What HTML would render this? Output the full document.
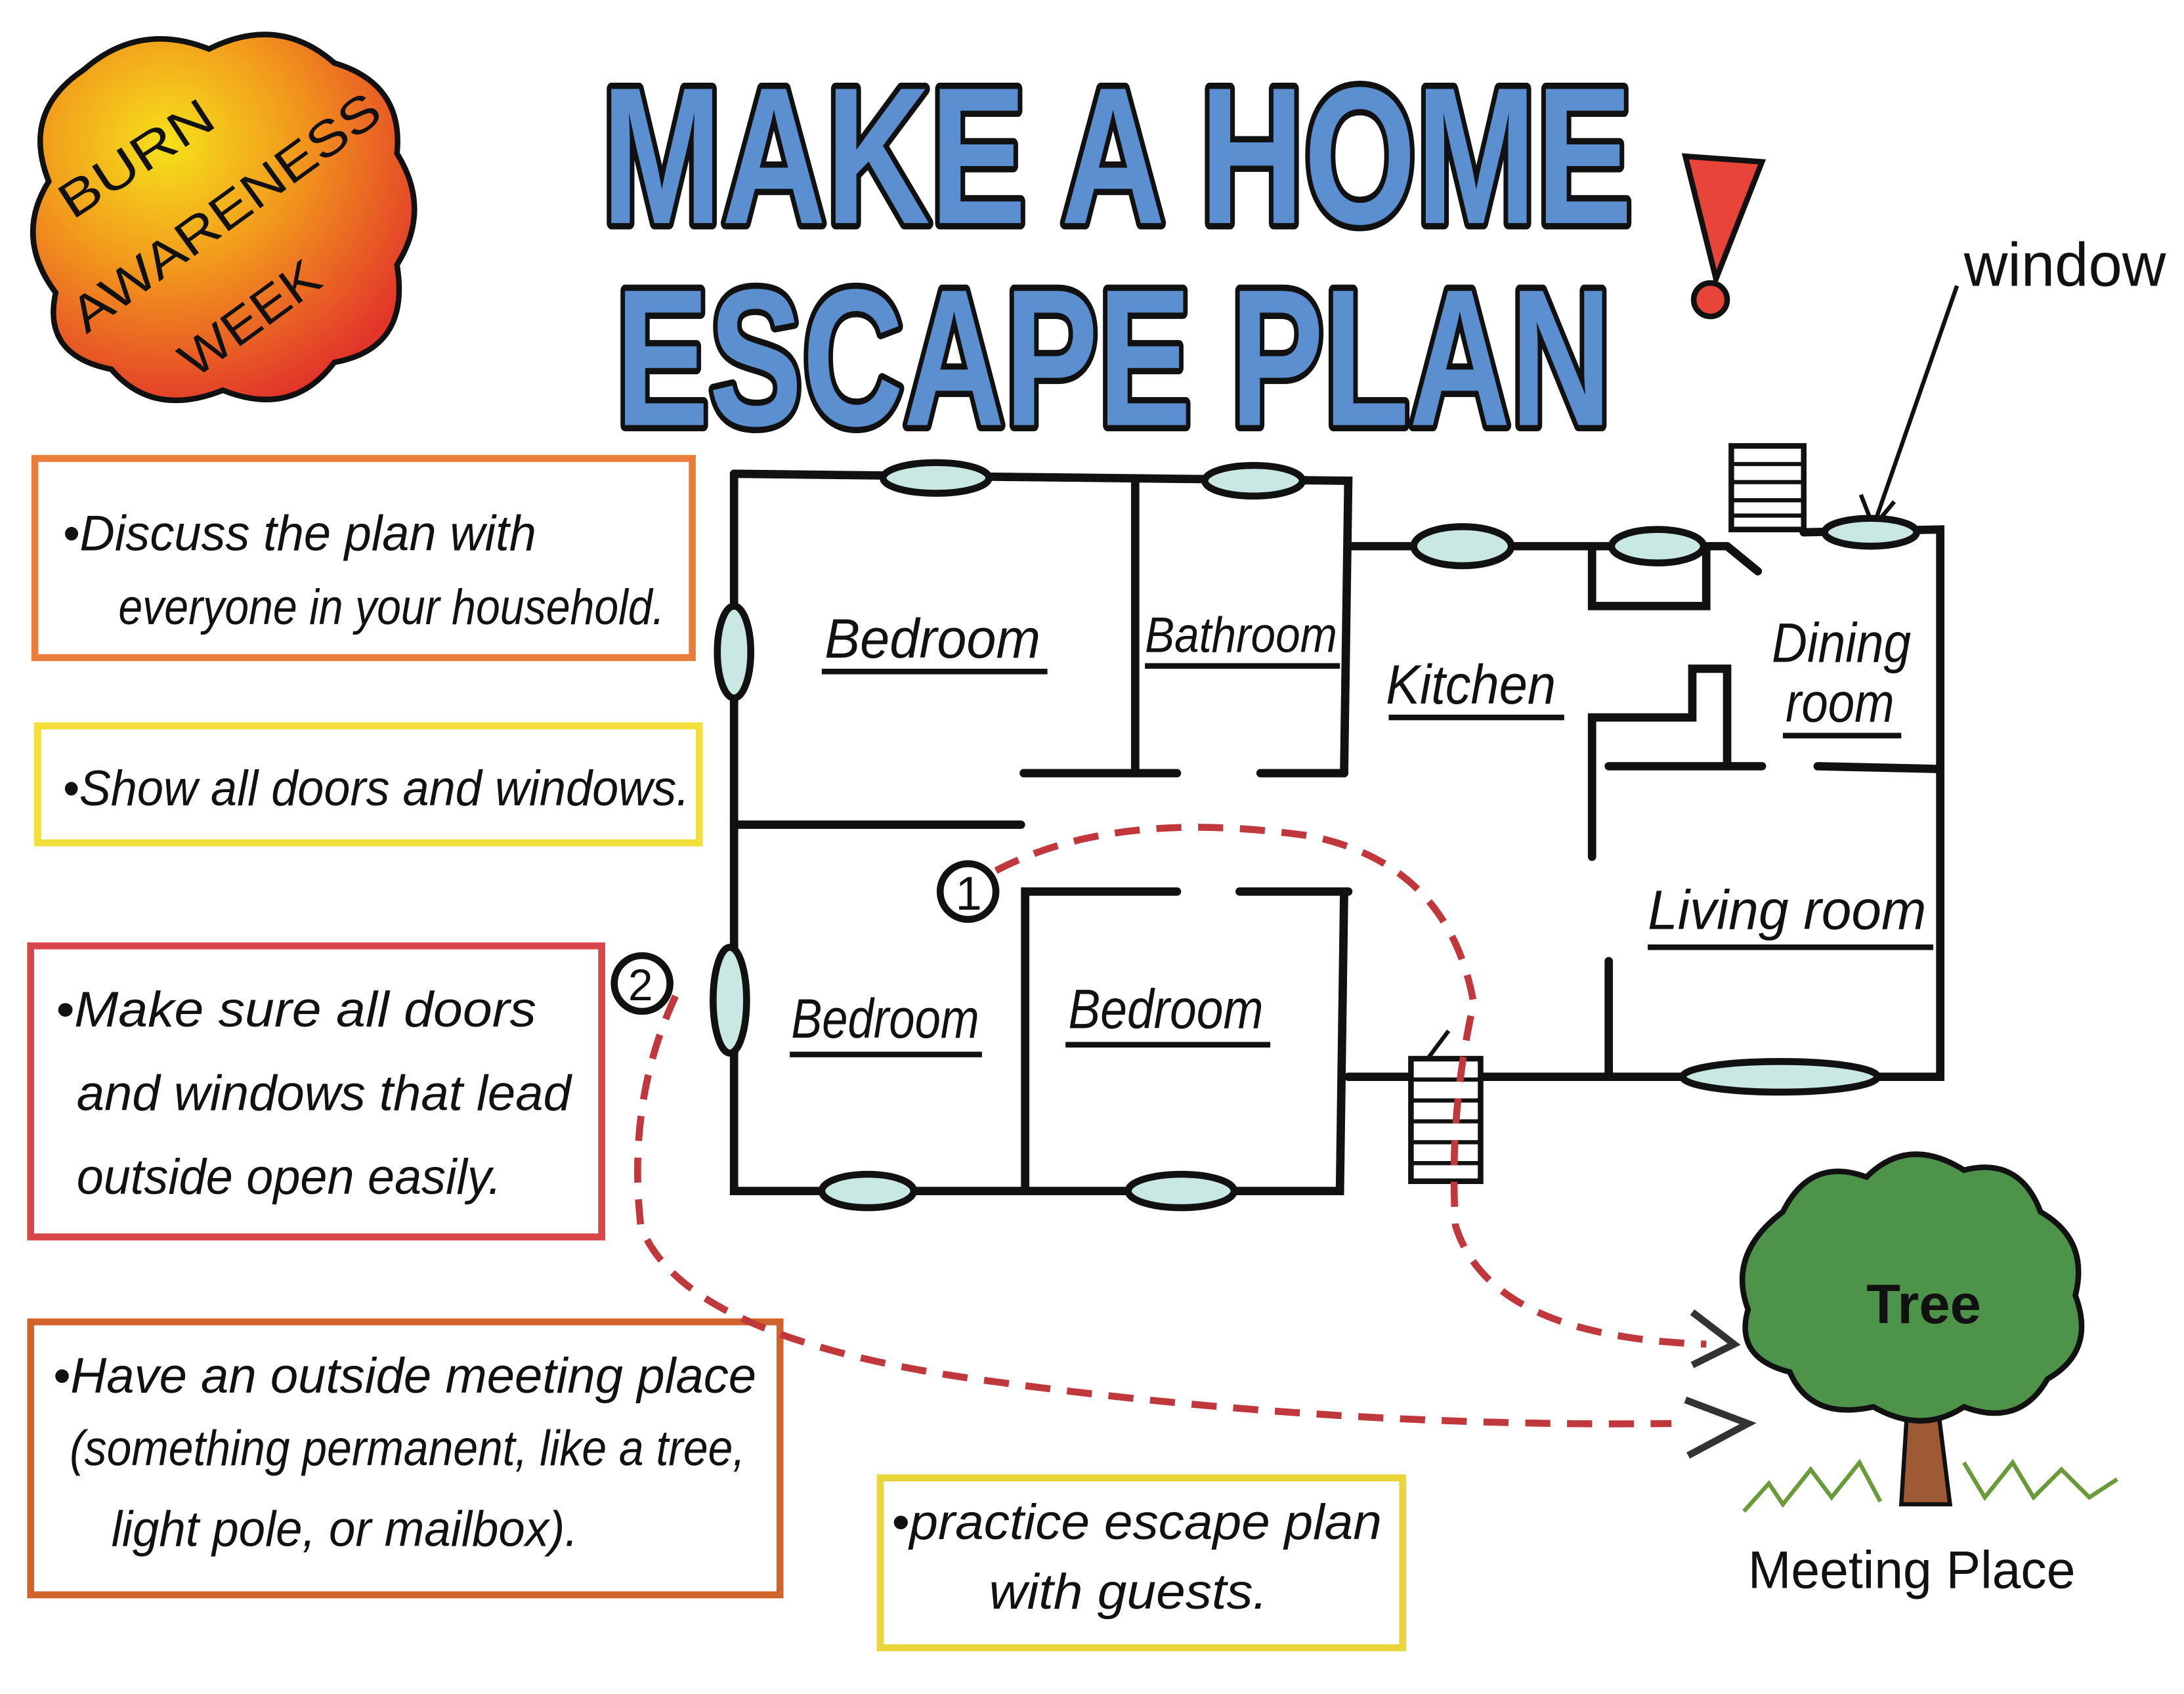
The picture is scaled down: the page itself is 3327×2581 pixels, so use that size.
<!DOCTYPE html>
<html><head><meta charset="utf-8"><style>
html,body{margin:0;padding:0;background:#fff;}
svg{display:block;}
text{font-family:"Liberation Sans",sans-serif;}
</style></head><body>
<svg width="3327" height="2581" viewBox="0 0 1568 1216" xmlns="http://www.w3.org/2000/svg">
<defs>
<radialGradient id="burn" cx="0.35" cy="0.3" r="0.75">
<stop offset="0" stop-color="#f5e11a"/><stop offset="0.45" stop-color="#f29a1c"/><stop offset="1" stop-color="#e2352a"/>
</radialGradient>
</defs>
<rect width="1568" height="1216" fill="#fff"/>
<!-- burn blob -->
<path d="M60,50 Q100,15 150,35 Q200,10 240,45 Q290,60 285,110 Q310,150 285,190 Q295,250 240,260 Q210,300 160,280 Q110,300 80,265 Q30,255 40,210 Q10,170 35,130 Q15,80 60,50Z" fill="url(#burn)" stroke="#111" stroke-width="4"/>
<g font-size="36" fill="#111">
<text x="0" y="0" transform="translate(52,158) rotate(-33)" textLength="125" lengthAdjust="spacingAndGlyphs">BURN</text>
<text x="0" y="0" transform="translate(62,240) rotate(-36)" textLength="265" lengthAdjust="spacingAndGlyphs">AWARENESS</text>
<text x="0" y="0" transform="translate(140,272) rotate(-36)" textLength="115" lengthAdjust="spacingAndGlyphs">WEEK</text>
</g>
<!-- title -->
<g font-weight="bold" fill="#5b8fcf" stroke="#111" stroke-width="9" stroke-linejoin="round" paint-order="stroke" font-family="Liberation Sans">
<text x="432" y="160" font-size="140" textLength="740" lengthAdjust="spacingAndGlyphs">MAKE A HOME</text>
<text x="442" y="305" font-size="140" textLength="715" lengthAdjust="spacingAndGlyphs">ESCAPE PLAN</text>
</g>
<path d="M1210,112 L1265,116 L1232,200 Z" fill="#e8443a" stroke="#111" stroke-width="4"/>
<circle cx="1228" cy="215" r="12" fill="#e8443a" stroke="#111" stroke-width="4"/>
<!-- window label -->
<text x="1410" y="205" font-size="44" fill="#111" textLength="145" lengthAdjust="spacingAndGlyphs">window</text>
<line x1="1405" y1="205" x2="1346" y2="375" stroke="#111" stroke-width="3"/>
<path d="M1336,355 L1345,378 L1360,360" fill="none" stroke="#111" stroke-width="3"/>
<!-- tip boxes -->
<g fill="none" stroke-width="5">
<rect x="25" y="329" width="472" height="143" stroke="#ea7d3a"/>
<rect x="27" y="521" width="475" height="84" stroke="#f2df3a"/>
<rect x="22" y="679" width="410" height="209" stroke="#d8464a"/>
<rect x="22" y="949" width="538" height="196" stroke="#d0642c"/>
<rect x="632" y="1061" width="375" height="122" stroke="#e9d43a"/>
</g>
<g font-size="36" fill="#111" font-style="italic" lengthAdjust="spacingAndGlyphs">
<text x="45" y="395" textLength="340" lengthAdjust="spacingAndGlyphs">•Discuss the plan with</text>
<text x="85" y="448" textLength="392" lengthAdjust="spacingAndGlyphs">everyone in your household.</text>
<text x="45" y="578" textLength="450" lengthAdjust="spacingAndGlyphs">•Show all doors and windows.</text>
<text x="40" y="737" textLength="345" lengthAdjust="spacingAndGlyphs">•Make sure all doors</text>
<text x="55" y="797" textLength="355" lengthAdjust="spacingAndGlyphs">and windows that lead</text>
<text x="55" y="857" textLength="305" lengthAdjust="spacingAndGlyphs">outside open easily.</text>
<text x="38" y="1000" textLength="505" lengthAdjust="spacingAndGlyphs">•Have an outside meeting place</text>
<text x="50" y="1052" textLength="485" lengthAdjust="spacingAndGlyphs">(something permanent, like a tree,</text>
<text x="80" y="1110" textLength="335" lengthAdjust="spacingAndGlyphs">light pole, or mailbox).</text>
<text x="640" y="1105" textLength="352" lengthAdjust="spacingAndGlyphs">•practice escape plan</text>
<text x="710" y="1155" textLength="200" lengthAdjust="spacingAndGlyphs">with guests.</text>
</g>
<!-- floor plan walls -->
<g stroke="#111" stroke-width="6" fill="none" stroke-linecap="round">
<path d="M527,340 L968,345 L965,555"/>
<path d="M527,340 L527,855 L962,855 L965,640"/>
<path d="M815,345 L815,555"/>
<path d="M735,555 L845,555 M905,555 L965,555"/>
<path d="M527,592 L733,592"/>
<path d="M736,855 L736,640 L845,640 M890,640 L968,640"/>
<path d="M968,392 L1240,392"/>
<path d="M1295,382 L1393,380 L1393,773 L968,773"/>
<path d="M1143,392 L1143,435 L1225,435 L1225,392"/>
<path d="M1143,615 L1143,515 L1215,515 L1215,480 L1240,480 L1240,550"/>
<path d="M1155,550 L1265,550 M1305,550 L1393,552"/>
<path d="M1155,690 L1155,773"/>
<path d="M1240,392 L1262,410"/>
</g>
<!-- windows -->
<g fill="#c9e8e4" stroke="#111" stroke-width="5">
<ellipse cx="672" cy="343" rx="38" ry="11"/>
<ellipse cx="900" cy="345" rx="35" ry="11"/>
<ellipse cx="1050" cy="392" rx="35" ry="14"/>
<ellipse cx="1190" cy="392" rx="33" ry="12"/>
<ellipse cx="1343" cy="382" rx="33" ry="10"/>
<ellipse cx="527" cy="468" rx="12" ry="33"/>
<ellipse cx="524" cy="718" rx="12" ry="38"/>
<ellipse cx="623" cy="855" rx="33" ry="12"/>
<ellipse cx="848" cy="855" rx="38" ry="12"/>
<ellipse cx="1278" cy="773" rx="70" ry="11"/>
</g>
<!-- stairs -->
<g stroke="#111" stroke-width="4" fill="#fff">
<rect x="1243" y="320" width="52" height="60"/>
<rect x="1013" y="760" width="50" height="88"/>
</g>
<g stroke="#111" stroke-width="3">
<path d="M1243,333 H1295 M1243,346 H1295 M1243,359 H1295 M1243,370 H1295"/>
<path d="M1013,775 H1063 M1013,790 H1063 M1013,805 H1063 M1013,820 H1063 M1013,835 H1063"/>
<path d="M1025,760 L1040,740"/>
</g>
<!-- room labels -->
<g font-size="40" fill="#111" font-style="italic">
<text x="592" y="472" textLength="155" lengthAdjust="spacingAndGlyphs">Bedroom</text>
<text x="822" y="468" font-size="36" textLength="138" lengthAdjust="spacingAndGlyphs">Bathroom</text>
<text x="995" y="505" textLength="122" lengthAdjust="spacingAndGlyphs">Kitchen</text>
<text x="1272" y="475" textLength="100" lengthAdjust="spacingAndGlyphs">Dining</text>
<text x="1282" y="518" textLength="78" lengthAdjust="spacingAndGlyphs">room</text>
<text x="1183" y="667" textLength="200" lengthAdjust="spacingAndGlyphs">Living room</text>
<text x="568" y="745" textLength="135" lengthAdjust="spacingAndGlyphs">Bedroom</text>
<text x="767" y="738" textLength="140" lengthAdjust="spacingAndGlyphs">Bedroom</text>
</g>
<g stroke="#111" stroke-width="4">
<path d="M590,482 H752 M822,478 H962 M997,515 H1123 M1280,528 H1365 M1183,680 H1388 M567,757 H705 M765,750 H912"/>
</g>
<!-- escape paths -->
<g fill="none" stroke="#c0383c" stroke-width="5" stroke-dasharray="18,12">
<path d="M715,625 Q800,580 940,600 Q1040,620 1058,720 Q1040,800 1045,880 Q1070,960 1225,965"/>
<path d="M485,715 Q450,790 460,880 Q490,960 700,990 Q950,1025 1200,1022"/>
</g>
<g fill="none" stroke="#333" stroke-width="5">
<path d="M1215,942 L1245,965 L1215,980"/>
<path d="M1210,1005 L1255,1022 L1212,1045"/>
</g>
<circle cx="695" cy="640" r="20" fill="#fff" stroke="#111" stroke-width="5"/>
<text x="686" y="653" font-size="34" fill="#111">1</text>
<circle cx="461" cy="706" r="20" fill="#fff" stroke="#111" stroke-width="5"/>
<text x="451" y="718" font-size="32" fill="#111">2</text>
<!-- tree -->
<path d="M1370,1000 L1365,1080 L1400,1080 L1390,1000 Z" fill="#9e5a35" stroke="#111" stroke-width="3"/>
<path d="M1280,870 Q1300,830 1340,845 Q1370,815 1410,840 Q1450,830 1465,870 Q1500,890 1490,930 Q1505,970 1470,990 Q1450,1025 1410,1010 Q1380,1030 1345,1010 Q1300,1020 1285,985 Q1245,975 1255,940 Q1240,900 1280,870Z" fill="#4d944a" stroke="#111" stroke-width="4"/>
<text x="1340" y="950" font-size="40" fill="#111" font-weight="bold">Tree</text>
<path d="M1252,1085 L1270,1065 L1280,1080 L1300,1055 L1315,1075 L1335,1050 L1350,1078 M1410,1050 L1425,1075 L1445,1050 L1460,1075 L1480,1055 L1500,1075 L1520,1062" fill="none" stroke="#6a9a3a" stroke-width="3"/>
<text x="1255" y="1140" font-size="38" fill="#111" textLength="235" lengthAdjust="spacingAndGlyphs">Meeting Place</text>
</svg>
</body></html>
